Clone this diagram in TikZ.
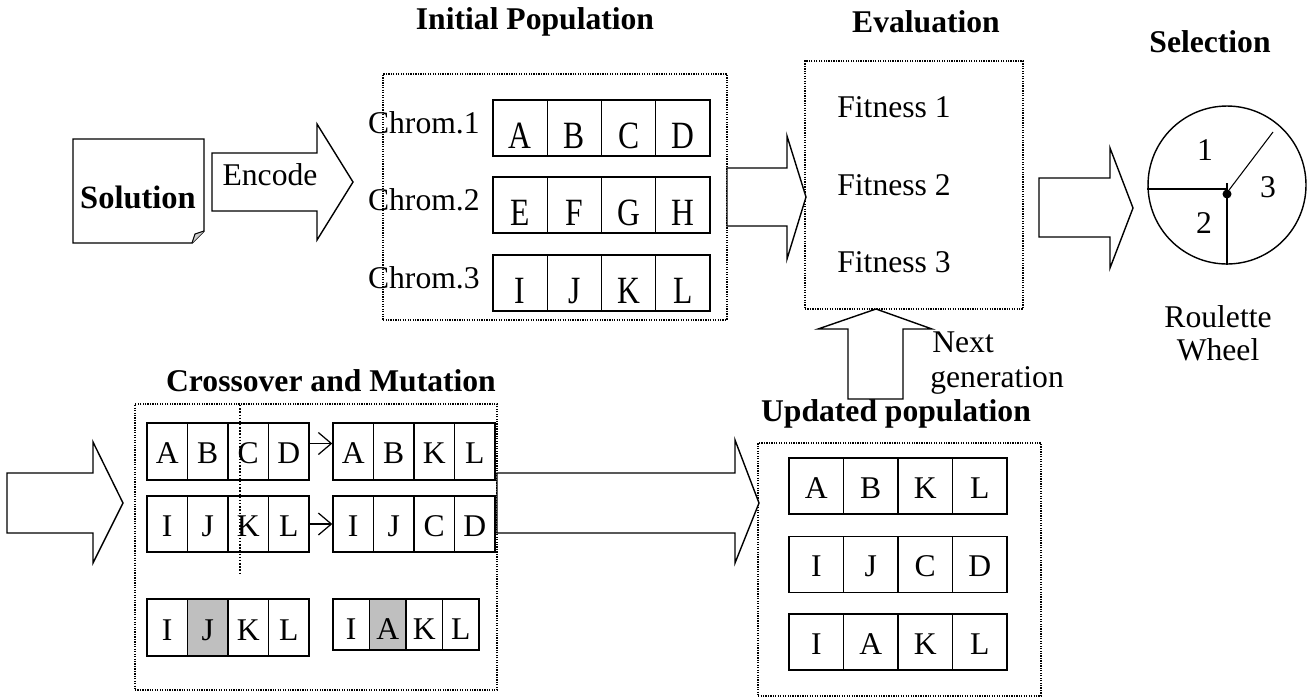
\documentclass[tikz,border=0pt]{standalone}
\usepackage{fontspec}
\usepackage{graphicx}
\setmainfont{Liberation Serif}
\usetikzlibrary{positioning,arrows.meta}

\begin{document}
\begin{tikzpicture}[x=0.02cm, y=-0.02cm,
	every node/.style={font=\fontsize{18}{19}\selectfont, inner sep=0pt},
	title/.style={font=\fontsize{18}{19}\selectfont\bfseries},
	gene/.style={draw, line width=0.8pt, inner sep=0pt, minimum height=1.12cm, text height=14pt, text depth=0pt},
	dotbox/.style={draw, line width=0.7pt, dash pattern=on 0.7pt off 0.7pt},
	blockarrow/.style={draw, line width=0.8pt, fill=white, line join=miter}]
		\useasboundingbox (0,0) rectangle (1310,698);

		% dotted frames
		\node[dotbox, minimum width=6.88cm, minimum height=4.92cm] (initbox) at (555,197) {};
		\node[dotbox, minimum width=4.36cm, minimum height=4.96cm] (evalbox) at (914,185) {};
		\node[dotbox, minimum width=7.24cm, minimum height=5.72cm] (crossbox) at (316,547) {};
		\node[dotbox, minimum width=5.66cm, minimum height=5.06cm] (newbox) at (899.5,569.5) {};

		\node[title] (inittitle) at (535,22) {Initial Population};
		\node[title] (evaltitle) at (926,22) {Evaluation};
		\node[title] (seltitle) at (1210,42) {Selection};
		\node[title] (crosstitle) at (331,381) {Crossover and Mutation};
		\node[title] (newtitle) at (896,414) {Updated population};

		% solution sheet
		\draw[line width=0.8pt] (73,139) -- (204,139) -- (204,231) -- (192,243) -- (73,243) -- cycle;
		\filldraw[fill=gray!40, line width=0.6pt] (204,231) -- (195,234) -- (192,243);
		\node[title, font=\fontsize{18.5}{19}\selectfont\bfseries] (solution) at (138,197) {Solution};

		% block arrows
		\draw[blockarrow] (212,153) -- (317,153) -- (317,124) -- (353,182) -- (317,240) -- (317,211) -- (212,211) -- cycle;
		\node (encode) at (270,175) {Encode};
		\draw[blockarrow] (727,168) -- (787,168) -- (787,136) -- (806,197) -- (787,259) -- (787,226) -- (727,226) -- cycle;
		\draw[blockarrow] (1039,178) -- (1110,178) -- (1110,148) -- (1133,208) -- (1110,268) -- (1110,237) -- (1039,237) -- cycle;
		\draw[blockarrow] (848,399) -- (848,329) -- (818,329) -- (876,309) -- (932,329) -- (903,329) -- (903,399) -- cycle;
		\draw[blockarrow] (7,473) -- (93,473) -- (93,442) -- (123,503) -- (93,563) -- (93,533) -- (7,533) -- cycle;
		\draw[blockarrow] (497,473) -- (735,473) -- (735,440) -- (759,503) -- (735,563) -- (735,533) -- (497,533) -- cycle;

		% initial population
		\foreach \row/\y/\genes in {1/128/{A,B,C,D}, 2/205/{E,F,G,H}, 3/283/{I,J,K,L}} {
			\node[anchor=east] (chrom\row) at (480,\y-5) {Chrom.\row};
			\foreach \g [count=\i] in \genes
				\node[gene, minimum width=1.085cm, text height=23.7pt] (p\row\i) at ({493+(\i-0.5)*54.25},\y) {\scalebox{1}[1.22]{\g}};
		}

		% evaluation
		\foreach \k/\y in {1/107, 2/185, 3/262}
			\node[anchor=west] (fit\k) at (837,\y) {Fitness \k};
		\node[anchor=west] (next) at (932,342) {Next};
		\node[anchor=west] (nextgen) at (930,380) {generation};

		% roulette wheel
		\node[draw, circle, line width=0.8pt, minimum size=3.16cm] (wheel) at (1227,185) {};
		\coordinate (hub) at (1227,189);
		\draw[line width=0.8pt] (wheel.west |- hub) -- (hub);
		\draw[line width=0.8pt] (1227,183) -- (wheel.south);
		\draw[line width=0.6pt] (1229,190) -- (1273,132);
		\fill (1227,194) circle [radius=4.5];
		\node (w1) at (1205,150) {1};
		\node (w2) at (1204,223) {2};
		\node (w3) at (1268,187) {3};
		\node[align=center] (roulette) at (1218,333) {Roulette\\Wheel};

		% crossover
		\foreach \g [count=\i] in {A,B,C,D}
			\node[gene, minimum width=0.81cm, minimum height=1.14cm] (xa\i) at ({147+(\i-0.5)*40.5},451.5) {\g};
		\foreach \g [count=\i] in {I,J,K,L}
			\node[gene, minimum width=0.81cm] (xb\i) at ({147+(\i-0.5)*40.5},524) {\g};
		\foreach \g [count=\i] in {A,B,K,L}
			\node[gene, minimum width=0.81cm, minimum height=1.14cm] (ya\i) at ({333+(\i-0.5)*40.5},451.5) {\g};
		\foreach \g [count=\i] in {I,J,C,D}
			\node[gene, minimum width=0.81cm] (yb\i) at ({333+(\i-0.5)*40.5},524) {\g};
		\draw[-{Straight Barb[length=2.6mm, width=4.4mm]}, line width=0.7pt] ([yshift=0.16cm]xa4.east) -- ([yshift=0.16cm]ya1.west);
		\draw[-{Straight Barb[length=2.6mm, width=4.4mm]}, line width=0.7pt] (xb4.east) -- (yb1.west);
		\draw[line width=0.8pt, dash pattern=on 0.8pt off 1pt] (240,405) -- (240,573);

		% mutation
		\foreach \g/\c [count=\i] in {I/white, J/gray!50, K/white, L/white}
			\node[gene, fill=\c, minimum width=0.81cm, minimum height=1.14cm, text height=15pt] (ma\i) at ({147+(\i-0.5)*40.5},627.5) {\g};
		\foreach \g/\c [count=\i] in {I/white, A/gray!50, K/white, L/white}
			\node[gene, fill=\c, minimum width=0.73cm, minimum height=1.02cm, text height=17.5pt] (mb\i) at ({333+(\i-0.5)*36.5},624.5) {\g};

		% updated population
		\foreach \row/\y/\genes in {1/486/{A,B,K,L}, 2/564.5/{I,J,C,D}, 3/642/{I,A,K,L}}
			\foreach \g [count=\i] in \genes
				\node[gene, minimum width=1.09cm] (u\row\i) at ({789+(\i-0.5)*54.5},\y) {\g};
\end{tikzpicture}
\end{document}
